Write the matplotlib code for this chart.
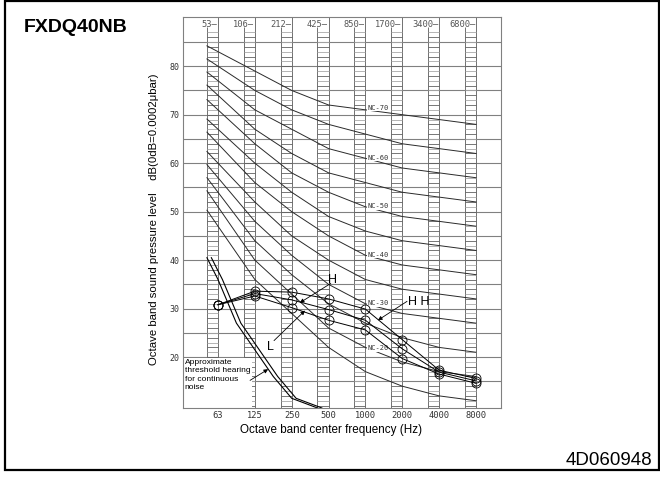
import matplotlib
matplotlib.use("Agg")
import matplotlib.pyplot as plt
from matplotlib.patches import Rectangle

# ------------------------------------------------------------------ #
#  Data
# ------------------------------------------------------------------ #
bands = ["63", "125", "250", "500", "1000", "2000", "4000", "8000"]
band_edges = ["53", "106", "212", "425", "850", "1700", "3400", "6800"]

# NC curves (dB at 63 ... 8000 Hz)
nc_levels = [15, 20, 25, 30, 35, 40, 45, 50, 55, 60, 65, 70]
nc_values = [
    [47, 36, 29, 22, 17, 14, 12, 11],
    [51, 40, 33, 26, 22, 19, 17, 16],
    [54, 44, 37, 31, 27, 24, 22, 21],
    [57, 48, 41, 35, 31, 29, 28, 27],
    [60, 52, 45, 40, 36, 34, 33, 32],
    [64, 56, 50, 45, 41, 39, 38, 37],
    [67, 60, 54, 49, 46, 44, 43, 42],
    [71, 64, 58, 54, 51, 49, 48, 47],
    [74, 67, 62, 58, 56, 54, 53, 52],
    [77, 71, 67, 63, 61, 59, 58, 57],
    [80, 75, 71, 68, 66, 64, 63, 62],
    [83, 79, 75, 72, 71, 70, 69, 68],
]
nc_labelled = [20, 30, 40, 50, 60, 70]

# measured unit levels
hh_values = [30.8, 33.6, 33.4, 32.0, 29.9, 23.6, 17.3, 15.6]
h_values = [30.8, 33.1, 31.8, 29.8, 27.6, 21.7, 16.9, 15.1]
l_values = [30.8, 32.6, 30.2, 27.6, 25.6, 19.7, 16.5, 14.6]

# approximate threshold of hearing (x in octave steps from 63 Hz)
thr_x = [-0.3, 0.0, 0.5, 1.0, 1.5, 2.0, 2.7]
thr_y = [40.5, 36.0, 27.0, 21.5, 16.0, 11.5, 9.5]

SANS = "Liberation Sans"
MONO = "DejaVu Sans Mono"

W, H = 660, 484
fig = plt.figure(figsize=(W / 100, H / 100), dpi=100)
ax = fig.add_axes([183 / W, (H - 408) / H, 318 / W, 391 / H])
ax.set_xlim(-0.95, 7.68)
ax.set_ylim(9.5, 90.15)

xs = list(range(len(bands)))
lad_w = 0.3

# grid
for y in range(15, 90, 5):
    ax.axhline(y, color="#808080", lw=0.8, zorder=1)

# ladders
for k in xs:
    ax.axvline(k, color="#707070", lw=0.7, zorder=1)
    ax.vlines(k - lad_w, 9.5, 88, color="#707070", lw=0.7, zorder=1)
    for db in range(10, 88):
        c = "#a8a8a8" if db % 2 else "#606060"
        ax.hlines(db, k - lad_w, k, color=c, lw=0.6, zorder=1)
    ax.text(k - 0.02, 88.5, band_edges[k] + "\u2014", ha="right", va="center",
            fontsize=6.3, family=MONO, color="#555555")

# NC curves, extended to the left edge of the 63 Hz ladder
for lvl, vals in zip(nc_levels, nc_values):
    x0 = -lad_w
    y0 = vals[0] + (vals[0] - vals[1]) * lad_w
    ax.plot([x0] + xs, [y0] + vals, color="#2a2a2a", lw=0.7, zorder=2)
    if lvl in nc_labelled:
        xl = 4.34
        yl = vals[4] + (vals[5] - vals[4]) * (xl - 4) + 0.8
        ax.text(xl, yl, f"NC-{lvl}", ha="center", va="center", fontsize=5,
                family=MONO, color="#333333", zorder=3,
                bbox=dict(facecolor="white", edgecolor="none", pad=0.3))

# threshold hearing (double line)
ax.plot(thr_x, thr_y, color="black", lw=0.8, zorder=2)
ax.plot([x + 0.12 for x in thr_x], thr_y, color="black", lw=0.8, zorder=2)

# white box behind the threshold note
ax.add_patch(Rectangle((-0.95, 9.5), 1.88, 10.4, facecolor="white",
                       edgecolor="none", zorder=2.5))
ax.text(-0.9, 19.7, "Approximate\nthreshold hearing\nfor continuous\nnoise",
        ha="left", va="top", fontsize=6, family=SANS, linespacing=1.3, zorder=3)
ax.annotate("", xy=(1.36, 17.5), xytext=(0.87, 15.2),
            arrowprops=dict(arrowstyle="-|>", lw=0.6, color="black",
                            mutation_scale=6, shrinkA=0, shrinkB=0), zorder=3)

# measured levels
for vals in (hh_values, h_values, l_values):
    ax.plot(xs, vals, color="black", lw=0.7, marker="o", markersize=6.5,
            markerfacecolor="none", markeredgewidth=0.6, zorder=4)

labels = [("H", (3.12, 36.0), (3.06, 35.2), (2.22, 31.2)),
          ("L", (1.41, 22.0), (1.52, 23.4), (2.36, 29.6)),
          ("H H", (5.45, 31.3), (5.13, 31.5), (4.34, 27.6))]
for label, txt_xy, tail, head in labels:
    ax.text(*txt_xy, label, ha="center", va="center", fontsize=9,
            family=SANS, zorder=5)
    ax.annotate("", xy=head, xytext=tail,
                arrowprops=dict(arrowstyle="-|>", lw=0.6, color="black",
                                mutation_scale=6, shrinkA=0, shrinkB=0), zorder=5)

# axes styling
ax.set_xticks(xs)
ax.set_xticklabels(bands, family=MONO, fontsize=6.3, color="#333333")
ax.set_yticks(range(20, 90, 10))
ax.set_yticklabels([str(v) for v in range(20, 90, 10)], family=MONO,
                   fontsize=6, color="#333333")
ax.tick_params(length=0, pad=2.5)
for s in ax.spines.values():
    s.set_color("#808080")
    s.set_linewidth(0.8)

fig.text(331 / W, 1 - 430 / H, "Octave band center frequency (Hz)", ha="center",
         va="center", fontsize=8.4, family=SANS)
fig.text(154 / W, 1 - 219 / H,
         "Octave band sound pressure level    dB(0dB=0.0002\u03bcbar)",
         ha="center", va="center", rotation=90, fontsize=8.2, family=SANS)

fig.text(24 / W, 1 - 32 / H, "FXDQ40NB", ha="left", va="baseline",
         fontsize=14, weight="bold", family=SANS)
fig.text(652 / W, 1 - 465 / H, "4D060948", ha="right", va="baseline",
         fontsize=13.5, family=SANS)

# outer frame of the figure
fig.patches.append(Rectangle((4.5 / W, 1 - 470 / H), 654 / W, 469 / H,
                             transform=fig.transFigure, fill=False,
                             edgecolor="black", lw=1.6))

fig.savefig("out.png", dpi=100)
